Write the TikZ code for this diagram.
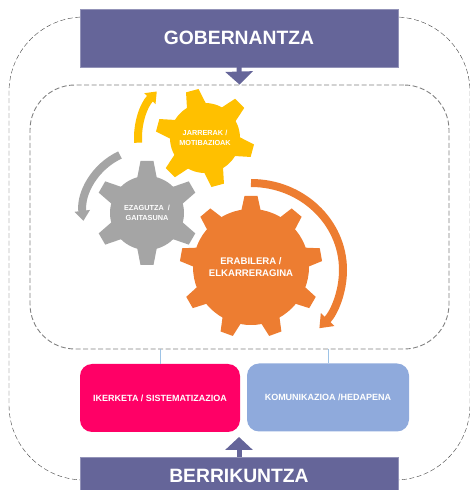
\documentclass[tikz,border=0pt]{standalone}
\usepackage{fontspec}
\setmainfont{Liberation Sans}
\usetikzlibrary{arrows.meta}
\definecolor{boxpurple}{HTML}{656599}
\definecolor{gearyellow}{HTML}{FFC000}
\definecolor{geargray}{HTML}{A5A5A5}
\definecolor{gearorange}{HTML}{ED7D31}
\definecolor{boxpink}{HTML}{FF0066}
\definecolor{boxblue}{HTML}{8FAADC}
\definecolor{linkblue}{HTML}{9DC3E6}
\definecolor{dashgray}{HTML}{404040}
% x y r R teeth offset colour name
\newcommand{\gearwheel}[8]{
    \coordinate (#8) at (#1,#2);
    \fill[#7] (#8) circle (#3);
    \foreach \n in {1,...,#5} {
        \fill[#7, shift={(#1,#2)}, rotate=#6+\n*360/#5]
            (#3-3,-10) -- (#4,-6.5) -- (#4,6.5) -- (#3-3,10) -- cycle;
    }
}
\begin{document}
\begin{tikzpicture}[
    x=1pt, y=1pt,
    container/.style={draw=dashgray, dash pattern=on 5pt off 2.5pt, fill=none, inner sep=0pt},
    banner/.style={draw=boxpurple!70!white, fill=boxpurple, text=white, font=\bfseries\fontsize{19.3}{22}\selectfont, minimum width=318pt, inner sep=0pt},
    card/.style={rounded corners=12pt, fill=#1, text=white, font=\bfseries\fontsize{9}{11}\selectfont, minimum height=68pt, inner sep=0pt},
    smalllabel/.style={text=white, align=center, font=\bfseries\fontsize{7.3}{10.5}\selectfont, inner sep=0pt},
    biglabel/.style={text=white, align=center, font=\bfseries\fontsize{9.6}{12}\selectfont, inner sep=0pt},
    blockarrow/.style={-{Triangle[width=27pt,length=13pt]}, line width=5pt, boxpurple},
    curved/.style={line width=8pt, draw=#1}
]
    \useasboundingbox (0,0) rectangle (469,490);

    \node[container, rounded corners=75pt, minimum width=461pt, minimum height=463pt] (outer) at (239.5,241.5) {};
    \node[container, draw=gray, rounded corners=45pt, line width=0.9pt, minimum width=419pt, minimum height=264pt] (inner) at (239.5,273) {};

    \node[banner, minimum height=58pt] (gov) at (239,452) {GOBERNANTZA};
    \node[banner, minimum height=37pt] (berri) at (239,14.5) {BERRIKUNTZA};

    \node[card=boxpink, minimum width=160pt] (ikerketa) at (160,92) {IKERKETA / SISTEMATIZAZIOA};
    \node[card=boxblue, minimum width=162pt] (komunikazioa) at (328,92.5) {KOMUNIKAZIOA /HEDAPENA};

    \gearwheel{147}{277}{37}{52}{6}{30}{geargray}{gray}
    \gearwheel{205}{352}{35}{49}{6}{45}{gearyellow}{yellow}
    \gearwheel{251}{223}{58}{71}{9}{50}{gearorange}{orange}

    \node[smalllabel] (ezagutza) at (gray) {EZAGUTZA~~/\\GAITASUNA};
    \node[smalllabel] (jarrerak) at (yellow) {JARRERAK~/\\MOTIBAZIOAK};
    \node[biglabel] (erabilera) at (orange) {ERABILERA /\\ELKARRERAGINA};

    \draw[curved=gearyellow, -{Triangle[width=15pt,length=10pt]}] (yellow) ++(184:67) arc[start angle=184, end angle=136, radius=67];
    \draw[curved=geargray, -{Triangle[width=15pt,length=10pt]}] (gray) ++(115:64) arc[start angle=115, end angle=187, radius=64];
    \draw[curved=gearorange, -{Triangle[width=18pt,length=12pt]}] (orange) ++(0,84) arc[start angle=90, end angle=-42, x radius=92, y radius=87];

    \coordinate (uptip) at (239,53);
    \draw[blockarrow] (gov.south) -- (inner.north);
    \draw[blockarrow] (berri.north) -- (uptip);

    \draw[linkblue] (inner.south -| ikerketa.north) -- (ikerketa.north);
    \draw[linkblue] (inner.south -| komunikazioa.north) -- (komunikazioa.north);
\end{tikzpicture}
\end{document}
